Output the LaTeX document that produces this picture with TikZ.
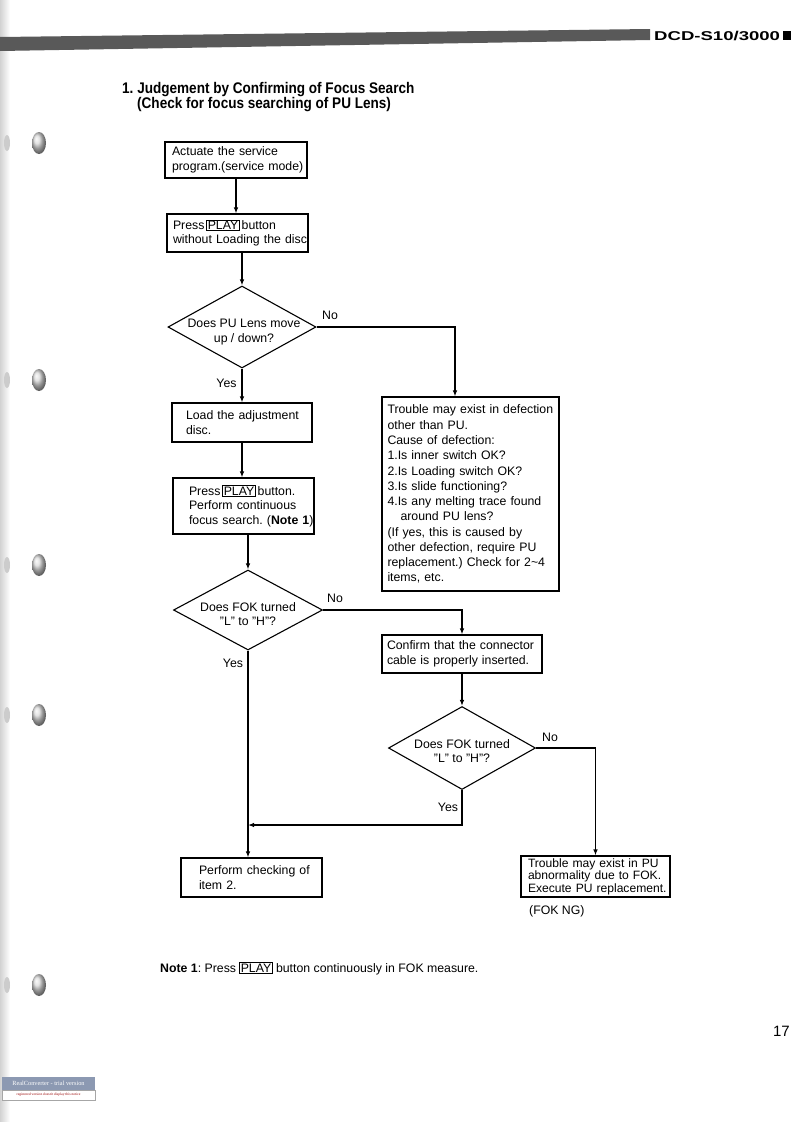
\documentclass[tikz,border=0pt]{standalone}
\usepackage{fontspec}
\setmainfont{Liberation Sans}
\newfontfamily\wmfont{Liberation Serif}
\usetikzlibrary{arrows.meta,shapes.geometric,calc}
\newcommand{\bodyfont}{\fontsize{12.3}{14.6}\selectfont\frenchspacing}
\newcommand{\bigboxfont}{\fontsize{12.3}{15.3}\selectfont\frenchspacing}
\newcommand{\tightfont}{\fontsize{12.1}{12.6}\selectfont\frenchspacing}
\newcommand{\titlefont}{\fontsize{15.4}{17}\selectfont\bfseries\frenchspacing}
\newcommand{\pbx}[1]{{\setlength{\fboxsep}{0.7pt}\setlength{\fboxrule}{0.6pt}\fbox{#1}}}
\newcommand{\lnx}[1]{\mbox{#1}}
\begin{document}
\frenchspacing
\begin{tikzpicture}[x=1pt,y=-1pt,
  box/.style={draw,line width=1.1pt,align=left,font=\bodyfont,inner ysep=0pt,anchor=center},
  dia/.style={draw,diamond,line width=1.1pt,inner sep=0pt},
  arr/.style={line width=1.1pt,-{Latex[length=6pt,width=4.5pt]}},
  ln/.style={line width=1.1pt},
  lbl/.style={font=\bodyfont,inner sep=0pt},
  hole/.style={ball color=gray!30,draw=none}]

\useasboundingbox (0,0) rectangle (793,1122);
\fill[white] (0,0) rectangle (793,1122);

% left page edge and binder holes
\shade[left color=gray!35,right color=white] (0,0) rectangle (10,1122);
\foreach \yy in {143,380,565,715,985}{
  \shade[hole] (39,\yy) ellipse [x radius=7,y radius=11];
  \fill[gray!40] (7,\yy) ellipse [x radius=3,y radius=8];
}

% header band
\fill[black!65] (0,37) -- (650,29) -- (650,40) -- (0,51) -- cycle;
\node[anchor=base west,inner sep=0pt,font=\fontsize{12.8}{13}\selectfont\bfseries] (hdr) at (654,40.5)
  {\scalebox{1.45}[1]{DCD-S10/3000}};
\fill[black] ($(hdr.east)+(3,-5)$) rectangle ($(hdr.east)+(11,4)$);

% title
\node[anchor=base west,inner sep=0pt,font=\titlefont] (ttl1) at (122,93) {\scalebox{0.88}[1]{1. Judgement by Confirming of Focus Search}};
\node[anchor=base west,inner sep=0pt,font=\titlefont] (ttl2) at (137,108.5) {\scalebox{0.88}[1]{(Check for focus searching of PU Lens)}};

% boxes
\node[box,minimum width=142,minimum height=36,text width=128,inner xsep=7] (b1) at (236,160)
  {\lnx{Actuate the service}\\\lnx{program.(service mode)}};
\node[box,minimum width=141,minimum height=38,text width=129,inner xsep=6] (b2) at (237.5,233)
  {\lnx{Press\,\pbx{PLAY}\,button}\\\lnx{without Loading the disc}};
\node[dia,minimum width=148,minimum height=82] (d1) at (242,327) {};
\node[lbl,align=center] (t1) at ($(d1.center)+(2,5)$) {Does PU Lens move\\up / down?};
\node[box,minimum width=140,minimum height=39,text width=112,inner xsep=14] (b3) at (242,422.5)
  {\lnx{Load the adjustment}\\\lnx{disc.}};
\node[box,minimum width=141,minimum height=56,text width=125,inner xsep=8] (b4) at (243.5,506)
  {\lnx{\hspace{8pt}Press\,\pbx{PLAY}\,button.}\\\lnx{\hspace{8pt}Perform continuous}\\\lnx{\hspace{8pt}focus search. (\textbf{Note 1})}};
\node[box,minimum width=177,minimum height=194,text width=166,inner xsep=5.5] (bb) at (470.5,494)
  {\bigboxfont \lnx{Trouble may exist in defection}\\\lnx{other than PU.}\\\lnx{Cause of defection:}\\\lnx{1.Is inner switch OK?}\\\lnx{2.Is Loading switch OK?}\\\lnx{3.Is slide functioning?}\\\lnx{4.Is any melting trace found}\\\lnx{\hspace{13pt}around PU lens?}\\\lnx{(If yes, this is caused by}\\\lnx{other defection, require PU}\\\lnx{replacement.) Check for 2\textasciitilde4}\\\lnx{items, etc.}};
\node[dia,minimum width=149,minimum height=80] (d2) at (248,610) {};
\node[lbl,align=center] (t2) at ($(d2.center)+(0,4)$) {Does FOK turned\\"L" to "H"?};
\node[box,minimum width=160,minimum height=38,text width=150,inner xsep=5] (b5) at (462,654)
  {\lnx{Confirm that the connector}\\\lnx{cable is properly inserted.}};
\node[dia,minimum width=147,minimum height=83] (d3) at (462,748) {};
\node[lbl,align=center] (t3) at ($(d3.center)+(0,3)$) {Does FOK turned\\"L" to "H"?};
\node[box,minimum width=141,minimum height=39,text width=105,inner xsep=18] (b6) at (251.5,877.5)
  {\lnx{Perform checking of}\\\lnx{item 2.}};
\node[box,minimum width=149,minimum height=41,text width=135,inner xsep=7,font=\tightfont] (b7) at (595.5,876.5)
  {\lnx{Trouble may exist in PU}\\\lnx{abnormality due to FOK.}\\\lnx{Execute PU replacement.}};
\node[lbl,anchor=base west] (fng) at (529,914) {(FOK NG)};

% labels
\node[lbl] (y1) at (226.5,383) {Yes};
\node[lbl] (n1) at (330,315) {No};
\node[lbl] (y2) at (233,663) {Yes};
\node[lbl] (n2) at (335,598) {No};
\node[lbl] (y3) at (448,807) {Yes};
\node[lbl] (n3) at (550,737) {No};

% connectors
\draw[arr] (b1.south) -- (b1.south |- b2.north);
\draw[arr] (b2.south -| d1.north) -- (d1.north);
\draw[arr] (d1.south) -- (d1.south |- b3.north);
\draw[arr] (b3.south) -- (b3.south |- b4.north);
\draw[arr] (b4.south -| d2.north) -- (d2.north);
\draw[arr] (d1.east) -| ($(bb.north)+(-15.5,0)$);
\draw[arr] (d2.east) -| (b5.north);
\draw[arr] (b5.south) -- (d3.north);
\draw[arr] (d3.east) -| (b7.north);
\coordinate (j) at (d2.south |- 0,825);
\draw[arr] (d2.south) -- (d2.south |- b6.north);
\draw[arr] (d3.south) |- (j);

% note
\node[anchor=base west,inner sep=0pt,font=\bodyfont] (note) at (160,972)
  {\textbf{Note 1}: Press \pbx{PLAY} button continuously in FOK measure.};

% page number
\node[anchor=base east,inner sep=0pt,font=\fontsize{15}{16}\selectfont] (pg) at (790,1036) {17};

% watermark
\fill[fill={rgb,1:red,0.55;green,0.6;blue,0.7}] (2,1077) rectangle (95,1090);
\draw[gray!70,line width=0.4pt,fill=white] (2,1090) rectangle (95,1100);
\node[inner sep=0pt,text=white,font=\wmfont\fontsize{6.3}{7}\selectfont] (wm1) at (48.5,1083.5) {RealConverter - trial version};
\node[inner sep=0pt,text=red!60!black,font=\wmfont\fontsize{3.6}{4}\selectfont] (wm2) at (48.5,1095) {registered version doesn't display this notice};
\end{tikzpicture}
\end{document}
